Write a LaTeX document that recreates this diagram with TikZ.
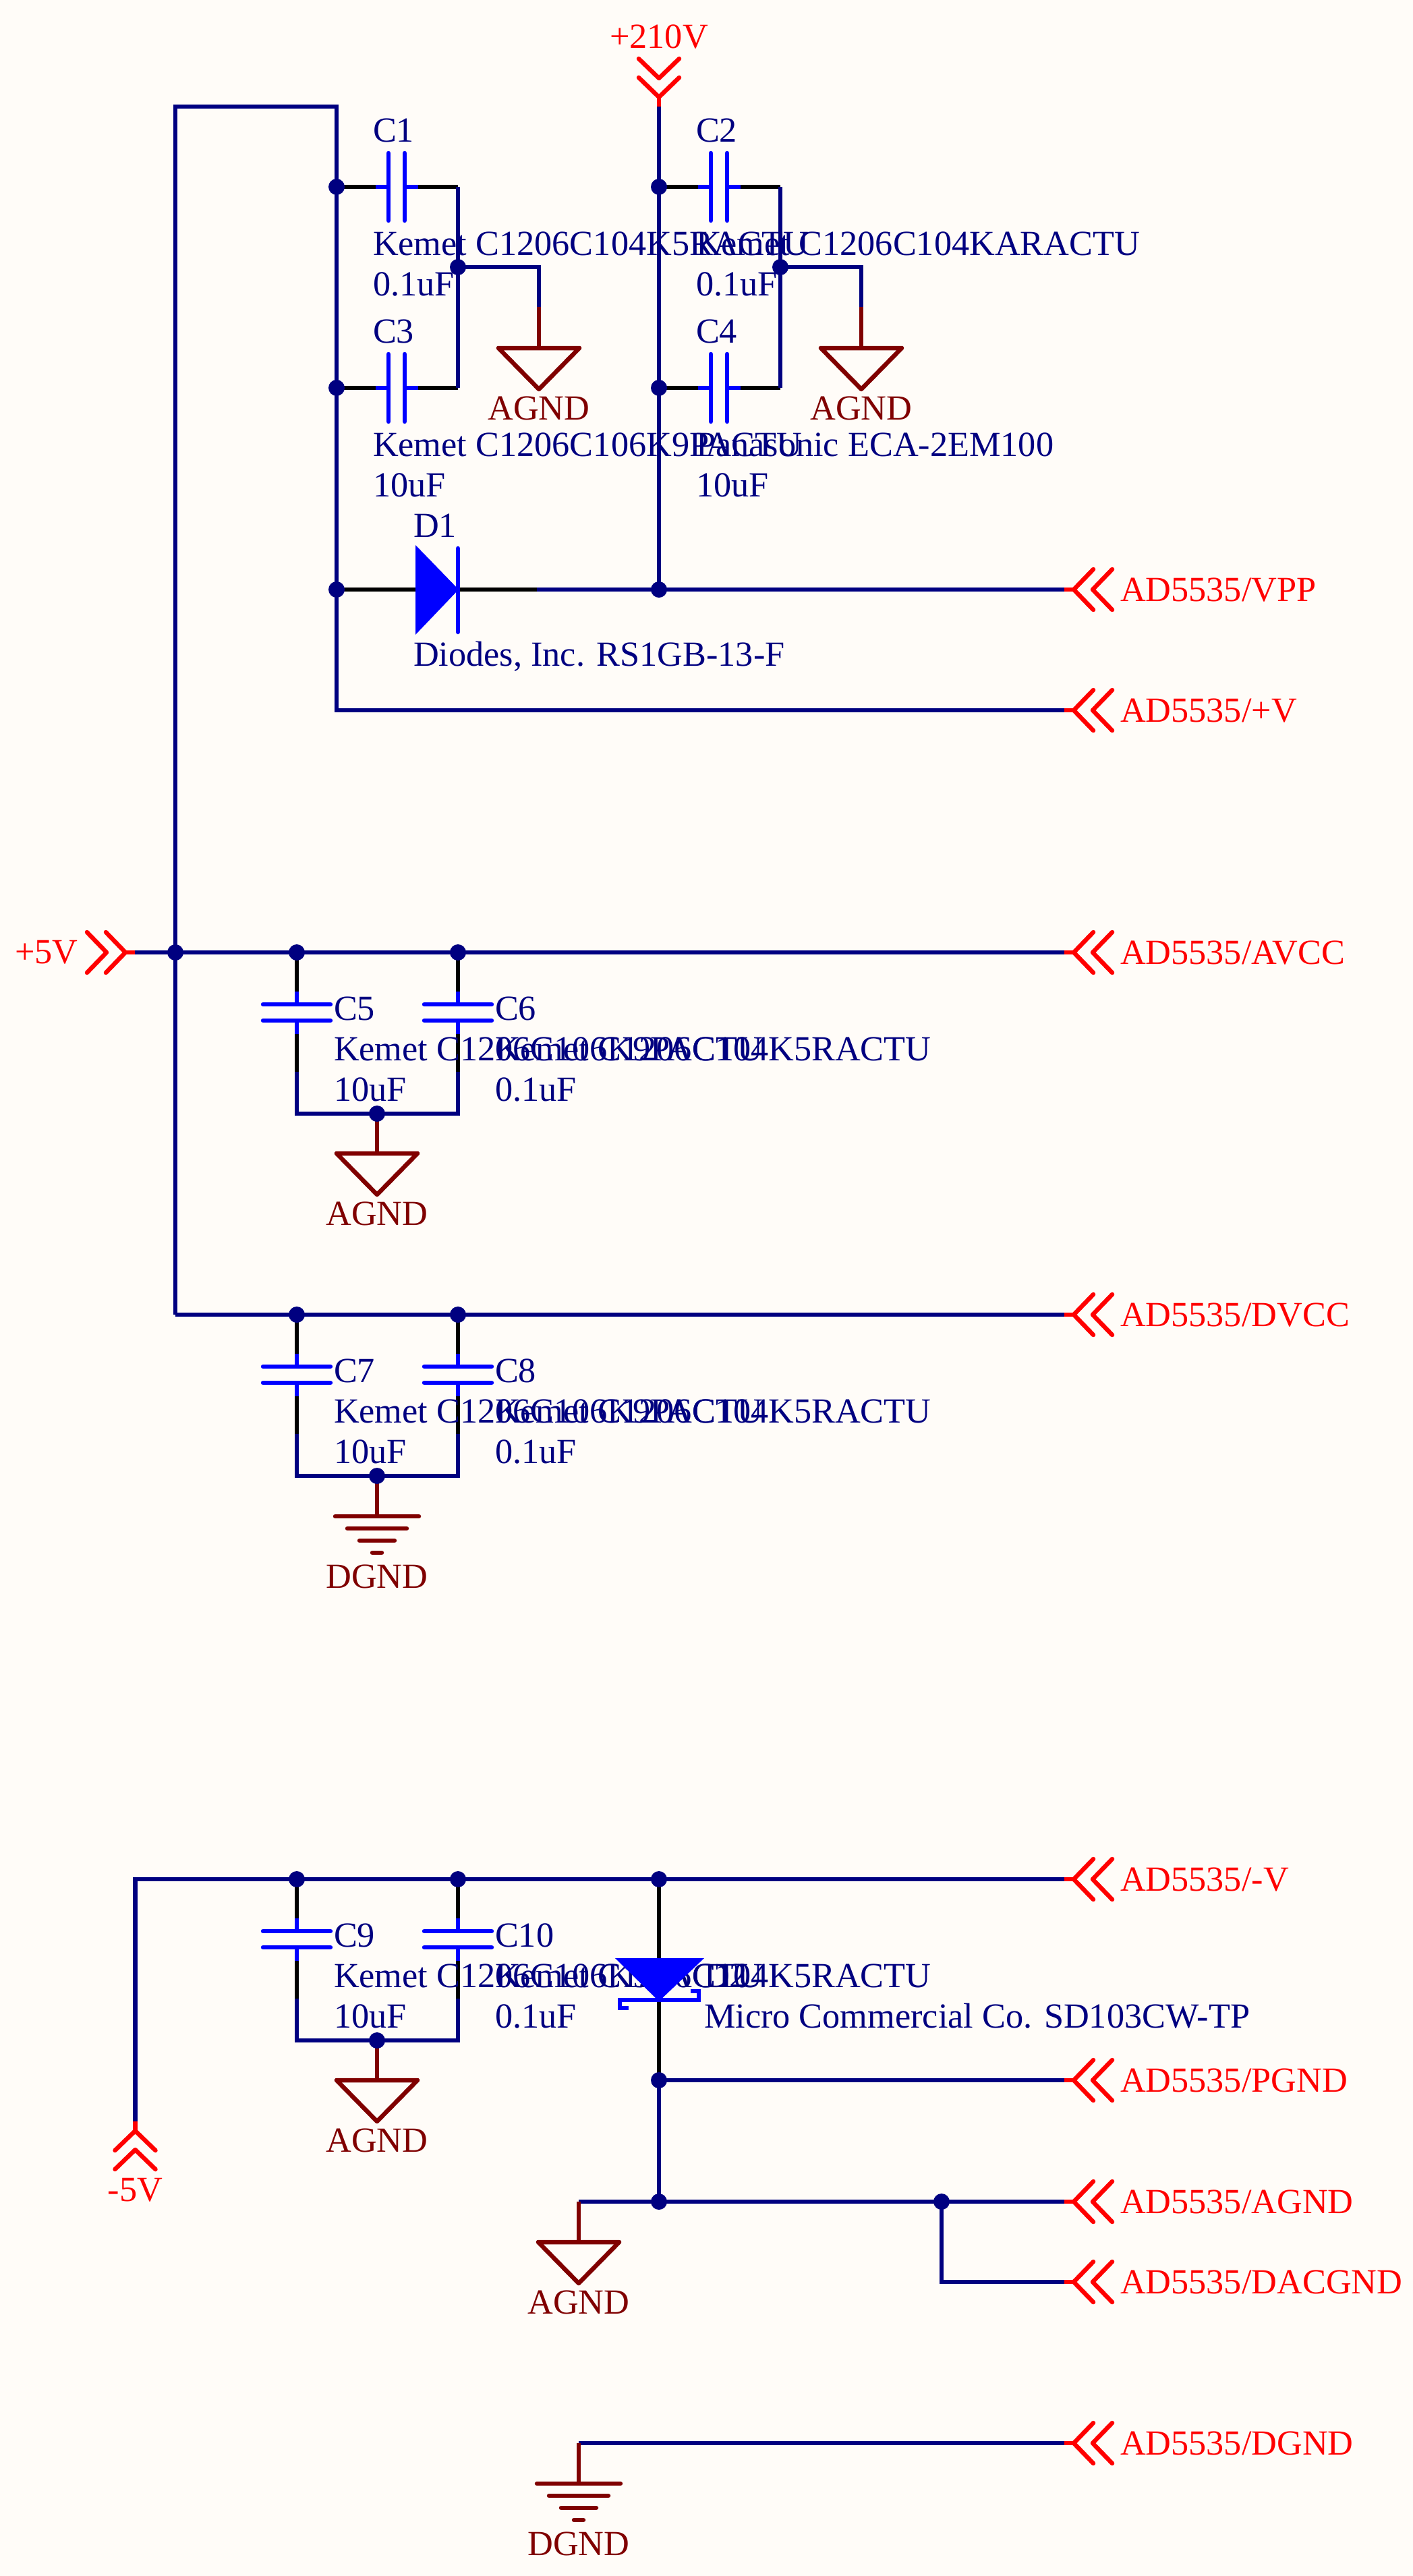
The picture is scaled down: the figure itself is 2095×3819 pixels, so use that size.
\documentclass[tikz,border=0pt]{standalone}
\usepackage{fontspec}
\setmainfont{Liberation Serif}
\definecolor{sheet}{HTML}{FFFCF8}
\definecolor{netblue}{HTML}{000080}
\definecolor{partblue}{HTML}{0000FF}
\definecolor{gndred}{HTML}{800000}
\definecolor{portred}{HTML}{FF0000}
\tikzset{
  x=1pt,y=-1pt,
  wire/.style={draw=netblue,line width=6.5pt,line join=miter},
  pin/.style={draw=black,line width=6pt},
  stub/.style={draw=partblue,line width=6pt},
  plate/.style={draw=partblue,line width=6.5pt,line cap=round},
  gndwire/.style={draw=gndred,line width=6.5pt},
  gndline/.style={draw=gndred,line width=6.5pt,line cap=round,line join=round},
  portline/.style={draw=portred,line width=6.5pt,line cap=round,line join=round},
  dot/.style={circle,fill=netblue,draw=none,minimum size=24pt,inner sep=0pt},
  lab/.style={anchor=base west,inner sep=0pt,outer sep=0pt,font=\fontsize{52.3}{60}\selectfont},
  partlab/.style={lab,text=netblue},
  portlab/.style={lab,text=portred},
  gndlab/.style={anchor=base,inner sep=0pt,outer sep=0pt,text=gndred,font=\fontsize{52.3}{60}\selectfont},
  capsym/.pic={
    \coordinate (-a) at (0,0);
    \coordinate (-b) at (#1,0);
    \draw[pin] (0,0) -- (58,0);
    \draw[stub] (58,0) -- (77,0);
    \draw[stub] (101,0) -- (121,0);
    \draw[pin] (121,0) -- (#1,0);
    \draw[plate] (77,-50) -- (77,50);
    \draw[plate] (101,-50) -- (101,50);
  },
  agndsym/.pic={
    \coordinate (-top) at (0,0);
    \draw[gndline] (-60,0) -- (60,0) -- (0,61) -- cycle;
    \node[gndlab] (-t) at (0,106.5) {AGND};
  },
  dgndsym/.pic={
    \coordinate (-top) at (0,0);
    \draw[gndline] (-62,0) -- (62,0);
    \draw[gndline] (-44,18) -- (44,18);
    \draw[gndline] (-26,36) -- (26,36);
    \draw[gndline] (-7,54) -- (7,54);
    \node[gndlab] (-t) at (0,106.5) {DGND};
  },
  portsym/.pic={
    \coordinate (-w) at (0,0);
    \draw[portline] (0,0) -- (14,0);
    \draw[portline] (43,-30) -- (14,0) -- (43,30);
    \draw[portline] (71,-30) -- (42,0) -- (71,30);
  }
}
\begin{document}
\begin{tikzpicture}
\useasboundingbox (0,0) rectangle (2095,3819);
\fill[sheet] (0,0) rectangle (2095,3819);

% junctions and corners
\coordinate (tl) at (260,158);
\coordinate (tm) at (499,158);
\coordinate (j1) at (499,277);
\coordinate (j2) at (499,575);
\coordinate (j3) at (499,874);
\coordinate (vc) at (499,1053);
\coordinate (j4) at (977,277);
\coordinate (j5) at (977,575);
\coordinate (j6) at (977,874);
\coordinate (j7) at (679,396);
\coordinate (j8) at (1157,396);
\coordinate (j9) at (260,1412);
\coordinate (j10) at (440,1412);
\coordinate (j11) at (679,1412);
\coordinate (j12) at (559,1651);
\coordinate (dl) at (260,1949);
\coordinate (j13) at (440,1949);
\coordinate (j14) at (679,1949);
\coordinate (j15) at (559,2188);
\coordinate (ml) at (200.5,2786);
\coordinate (j16) at (440,2786);
\coordinate (j17) at (679,2786);
\coordinate (j18) at (977,2786);
\coordinate (j19) at (559,3025);
\coordinate (j20) at (977,3084);
\coordinate (j21) at (977,3264);
\coordinate (j22) at (1396,3264);
\coordinate (ag) at (858,3264);
\coordinate (dg) at (858,3622);
\coordinate (dc) at (1396,3383);
\coordinate (g1a) at (799,396);
\coordinate (g1b) at (799,455);
\coordinate (g2a) at (1277,396);
\coordinate (g2b) at (1277,455);
\coordinate (d1a) at (616,874);
\coordinate (d1k) at (679,874);
\coordinate (d1e) at (796,874);
\coordinate (d2a) at (977,2903);
\coordinate (d2k) at (977,2966);

% symbols
\pic (c1) at (499,277) {capsym=180};
\pic (c3) at (499,575) {capsym=180};
\pic (c2) at (977,277) {capsym=180};
\pic (c4) at (977,575) {capsym=180};
\pic[rotate=-90] (c5) at (440,1412) {capsym=177};
\pic[rotate=-90] (c6) at (679,1412) {capsym=177};
\pic[rotate=-90] (c7) at (440,1949) {capsym=177};
\pic[rotate=-90] (c8) at (679,1949) {capsym=177};
\pic[rotate=-90] (c9) at (440,2786) {capsym=177};
\pic[rotate=-90] (c10) at (679,2786) {capsym=177};
\pic (g1) at (799,516) {agndsym};
\pic (g2) at (1277,516) {agndsym};
\pic (g3) at (559,1710) {agndsym};
\pic (g4) at (559,2248) {dgndsym};
\pic (g5) at (559,3084) {agndsym};
\pic (g6) at (858,3324) {agndsym};
\pic (g7) at (858,3682) {dgndsym};
\pic[rotate=90] (p210) at (977,158) {portsym};
\pic[rotate=180] (p5) at (200,1412) {portsym};
\pic[rotate=-90] (pm5) at (200.5,3145) {portsym};
\pic (pvpp) at (1578,874) {portsym};
\pic (pv) at (1578,1053) {portsym};
\pic (pavcc) at (1578,1412) {portsym};
\pic (pdvcc) at (1578,1949) {portsym};
\pic (pmv) at (1578,2786) {portsym};
\pic (ppg) at (1578,3084) {portsym};
\pic (pag) at (1578,3264) {portsym};
\pic (pda) at (1578,3383) {portsym};
\pic (pdg) at (1578,3622) {portsym};

% nets
\draw[wire] (dl) -- (j9) -- (tl) -- (tm) -- (j1) -- (j2) -- (j3) -- (vc) -- (pv-w);
\draw[wire] (p210-w) -- (j4) -- (j5) -- (j6);
\draw[wire] (d1e) -- (j6) -- (pvpp-w);
\draw[wire] (c1-b) -- (j7) -- (c3-b);
\draw[wire] (c2-b) -- (j8) -- (c4-b);
\draw[wire] (j7) -- (g1a) -- (g1b);
\draw[wire] (j8) -- (g2a) -- (g2b);
\draw[gndwire] (g1b) -- (g1-top);
\draw[gndwire] (g2b) -- (g2-top);
\draw[wire] (p5-w) -- (j9) -- (j10) -- (j11) -- (pavcc-w);
\draw[wire] (c5-b) -- (c5-b |- j12) -- (c6-b |- j12) -- (c6-b);
\draw[gndwire] (j12) -- (g3-top);
\draw[wire] (dl) -- (j13) -- (j14) -- (pdvcc-w);
\draw[wire] (c7-b) -- (c7-b |- j15) -- (c8-b |- j15) -- (c8-b);
\draw[gndwire] (j15) -- (g4-top);
\draw[wire] (pm5-w) -- (ml) -- (j16) -- (j17) -- (j18) -- (pmv-w);
\draw[wire] (c9-b) -- (c9-b |- j19) -- (c10-b |- j19) -- (c10-b);
\draw[gndwire] (j19) -- (g5-top);
\draw[wire] (j20) -- (ppg-w);
\draw[wire] (j20) -- (j21);
\draw[wire] (ag) -- (j21) -- (j22) -- (pag-w);
\draw[wire] (j22) -- (dc) -- (pda-w);
\draw[gndwire] (ag) -- (g6-top);
\draw[wire] (dg) -- (pdg-w);
\draw[gndwire] (dg) -- (g7-top);

% D1
\draw[pin] (j3) -- (d1a);
\draw[pin] (d1k) -- (d1e);
\fill[partblue] (616,808) -- (680,874) -- (616,941) -- cycle;
\draw[plate] (679,813) -- (679,937);
% D2 pins
\draw[pin] (j18) -- (d2a);
\draw[pin] (d2k) -- (j20);

% junction dots
\foreach \j in {j1,j2,j3,j4,j5,j6,j7,j8,j9,j10,j11,j12,j13,j14,j15,j16,j17,j18,j19,j20,j21,j22}
  \node[dot] (dot\j) at (\j) {};

% texts
\node[anchor=base,inner sep=0pt,text=portred,font=\fontsize{52.3}{60}\selectfont] (t210) at (977,72) {+210V};
\node[portlab] (t5) at (22,1428) {+5V};
\node[anchor=base,inner sep=0pt,text=portred,font=\fontsize{52.3}{60}\selectfont] (tm5) at (200.5,3263) {-5V};
\node[portlab] (tvpp) at (1661,891) {AD5535/VPP};
\node[portlab] (tv) at (1661,1070) {AD5535/+V};
\node[portlab] (tavcc) at (1661,1429) {AD5535/AVCC};
\node[portlab] (tdvcc) at (1661,1966) {AD5535/DVCC};
\node[portlab] (tmv) at (1661,2803) {AD5535/-V};
\node[portlab] (tpg) at (1661,3101) {AD5535/PGND};
\node[portlab] (tag) at (1661,3281) {AD5535/AGND};
\node[portlab] (tda) at (1661,3400) {AD5535/DACGND};
\node[portlab] (tdg) at (1661,3639) {AD5535/DGND};

\node[partlab] (n1) at (553,210) {C1};
\node[partlab] (n1m) at (553,378) {Kemet C1206C104K5RACTU};
\node[partlab] (n1v) at (553,438) {0.1uF};
\node[partlab] (n3) at (553,508) {C3};
\node[partlab] (n3m) at (553,676) {Kemet C1206C106K9PACTU};
\node[partlab] (n3v) at (553,736) {10uF};
\node[partlab] (n2) at (1032,210) {C2};
\node[partlab] (n2m) at (1032,378) {Kemet C1206C104KARACTU};
\node[partlab] (n2v) at (1032,438) {0.1uF};
\node[partlab] (n4) at (1032,508) {C4};
\node[partlab] (n4m) at (1032,676) {Panasonic ECA-2EM100};
\node[partlab] (n4v) at (1032,736) {10uF};
\node[partlab] (nd1) at (613,796) {D1};
\node[partlab] (nd1m) at (613,987) {Diodes, Inc. RS1GB-13-F};
\node[partlab] (n5) at (495,1512) {C5};
\node[partlab] (n5m) at (495,1572) {Kemet C1206C106K9PACTU};
\node[partlab] (n5v) at (495,1632) {10uF};
\node[partlab] (n6) at (734,1512) {C6};
\node[partlab] (n6m) at (734,1572) {Kemet C1206C104K5RACTU};
\node[partlab] (n6v) at (734,1632) {0.1uF};
\node[partlab] (n7) at (495,2049) {C7};
\node[partlab] (n7m) at (495,2109) {Kemet C1206C106K9PACTU};
\node[partlab] (n7v) at (495,2169) {10uF};
\node[partlab] (n8) at (734,2049) {C8};
\node[partlab] (n8m) at (734,2109) {Kemet C1206C104K5RACTU};
\node[partlab] (n8v) at (734,2169) {0.1uF};
\node[partlab] (n9) at (495,2886) {C9};
\node[partlab] (n9m) at (495,2946) {Kemet C1206C106K9PACTU};
\node[partlab] (n9v) at (495,3006) {10uF};
\node[partlab] (n10) at (734,2886) {C10};
\node[partlab] (n10m) at (734,2946) {Kemet C1206C104K5RACTU};
\node[partlab] (n10v) at (734,3006) {0.1uF};
\node[partlab] (nd2) at (1044,2946) {D2};
\node[partlab] (nd2m) at (1044,3006) {Micro Commercial Co. SD103CW-TP};

% D2 body lies over the texts
\fill[partblue] (912,2903) -- (1044,2903) -- (977,2967) -- cycle;
\draw[draw=partblue,line width=6pt,line join=miter,line cap=butt] (932,2977) -- (919,2977) -- (919,2965) -- (1036,2965) -- (1036,2952) -- (1024,2952);
\end{tikzpicture}
\end{document}
